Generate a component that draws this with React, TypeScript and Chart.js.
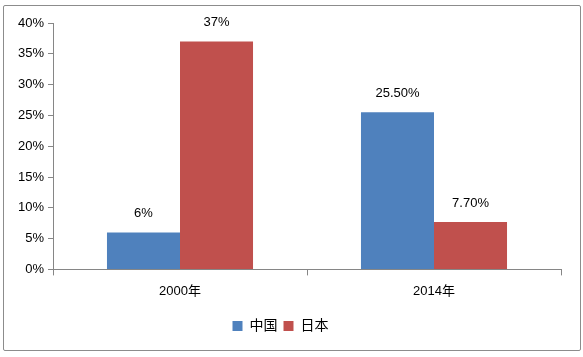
import React, { useEffect, useRef } from "react";
import { Chart, registerables } from "chart.js";

Chart.register(...registerables);

const categories = ["2000年", "2014年"];
const chinaValues = [6, 25.5];
const japanValues = [37, 7.7];
const chinaLabels = ["6%", "25.50%"];
const japanLabels = ["37%", "7.70%"];
const seriesNames = ["中国", "日本"];

const FONT = "'Liberation Sans', 'Noto Sans CJK SC', sans-serif";

const valueLabels = {
  id: "valueLabels",
  afterDatasetsDraw(chart: any) {
    const ctx = chart.ctx;
    const labelSets = [chinaLabels, japanLabels];
    ctx.save();
    ctx.font = `13px ${FONT}`;
    ctx.fillStyle = "#000";
    ctx.textAlign = "center";
    ctx.textBaseline = "middle";
    chart.data.datasets.forEach((_: any, di: number) => {
      const meta = chart.getDatasetMeta(di);
      meta.data.forEach((bar: any, i: number) => {
        ctx.fillText(labelSets[di][i], bar.x, bar.y - 19);
      });
    });
    ctx.restore();
  },
};

export default function App() {
  const ref = useRef<HTMLCanvasElement>(null);
  useEffect(() => {
    const chart = new Chart(ref.current!, {
      type: "bar",
      data: {
        labels: categories,
        datasets: [
          { label: seriesNames[0], data: chinaValues, backgroundColor: "#4F81BD" },
          { label: seriesNames[1], data: japanValues, backgroundColor: "#C0504D" },
        ],
      },
      options: {
        animation: false,
        responsive: false,
        maintainAspectRatio: false,
        datasets: { bar: { categoryPercentage: 0.575, barPercentage: 1 } },
        layout: { padding: { top: 23, right: 22, bottom: 14, left: 0 } },
        plugins: {
          tooltip: { enabled: false },
          legend: {
            position: "bottom",
            labels: {
              boxWidth: 10,
              boxHeight: 10,
              padding: 6,
              color: "#000",
              font: { size: 14, family: FONT },
            },
          },
        },
        scales: {
          x: {
            grid: { display: true, drawOnChartArea: false, drawTicks: true, tickLength: 6, color: "#868686", offset: true },
            border: { display: true, color: "#868686" },
            ticks: { color: "#000", font: { size: 13, family: FONT }, padding: 8 },
            afterFit: (s: any) => {
              s.height += 6;
            },
          },
          y: {
            min: 0,
            max: 40,
            grid: { display: true, drawOnChartArea: false, drawTicks: true, tickLength: 5, color: "#868686" },
            border: { display: true, color: "#868686" },
            ticks: {
              stepSize: 5,
              color: "#000",
              font: { size: 13, family: FONT },
              padding: 4,
              callback: (v: any) => v + "%",
            },
            afterFit: (s: any) => {
              s.width = 53;
            },
          },
        },
      },
      plugins: [valueLabels],
    });
    return () => chart.destroy();
  }, []);
  return (
    <div style={{ position: "fixed", left: 0, top: 0, width: 583, height: 357, background: "#fff" }}>
      <div
        style={{
          position: "absolute",
          left: 3,
          top: 5,
          width: 576,
          height: 344,
          border: "1px solid #8c8c8c",
          borderRadius: 2,
        }}
      />
      <canvas ref={ref} width={583} height={357} style={{ position: "absolute", left: 0, top: 0 }} />
    </div>
  );
}
